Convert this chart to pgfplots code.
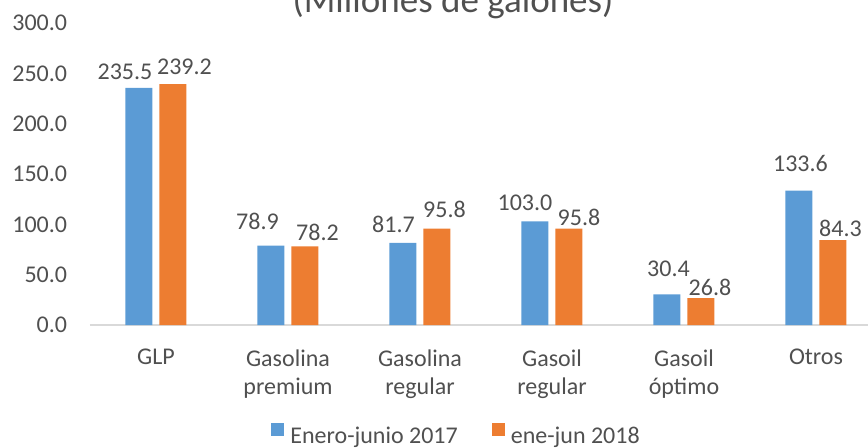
\documentclass[border=0pt]{standalone}
\usepackage{pgfplots}
\usepackage{pgfplotstable}
\pgfplotsset{compat=1.18}
\usepackage{fontspec}
\setmainfont{Carlito}
\definecolor{cblue}{HTML}{5B9BD5}
\definecolor{corange}{HTML}{ED7D31}
\definecolor{ctext}{HTML}{505050}
\definecolor{caxis}{HTML}{D9D9D9}

\pgfplotstableread{
x y dx dy
0 235.5 -7 4
1 78.9 -6.75 7.5
2 81.7 -4.75 5
3 103.0 -5 5
4 30.4 0.75 8.5
5 133.6 0.75 9
}\dataA
\pgfplotstableread{
x y dx dy
0 239.2 5.75 4.5
1 78.2 6.25 2.5
2 95.8 3.75 5
3 95.8 5 1
4 26.8 4.5 1
5 84.3 3.75 1.5
}\dataB

\begin{document}
\begin{tikzpicture}
\begin{axis}[
  at={(0,0)}, anchor=south west,
  scale only axis, width=389pt, height=151pt,
  xmin=-0.5, xmax=5.394, ymin=0, ymax=300,
  ybar, bar width=13.5pt,
  axis x line*=bottom, axis y line*=left,
  x axis line style={draw=caxis, line width=0.75pt, -},
  y axis line style={draw=none},
  major tick length=0pt,
  xtick={0,1,2,3,4,5},
  xticklabels={GLP, Gasolina\\premium, Gasolina\\regular, Gasoil\\regular, Gasoil\\óptimo, Otros},
  xticklabel style={align=center, anchor=north, inner sep=0pt, yshift=-12pt,
    font=\fontsize{12}{14}\selectfont, text=ctext},
  ytick={0,50,...,300},
  yticklabel style={anchor=east, inner sep=0pt, xshift=-11.25pt,
    font=\fontsize{12}{14}\selectfont, text=ctext},
  /pgf/number format/.cd, fixed, fixed zerofill, precision=1, assume math mode=true,
  /pgfplots/.cd,
  title={(Millones de galones)},
  title style={at={(axis description cs:0.4666,0.9967)}, anchor=base, inner sep=0pt,
    font=\fontsize{18.5}{22}\selectfont, text=ctext},
  legend style={at={(axis description cs:0.4737,-0.364)}, anchor=center, draw=none, fill=none,
    legend columns=2, font=\fontsize{12}{14}\selectfont, text=ctext,
    nodes={inner xsep=3pt, inner ysep=0pt},
    /tikz/every even column/.append style={column sep=14pt}},
  legend image code/.code={\path[#1, draw=none] (0pt,0.3pt) rectangle (6.5pt,6.8pt);},
  visualization depends on={\thisrow{dx} \as \lblx},
  visualization depends on={\thisrow{dy} \as \lbly},
  nodes near coords,
  every node near coord/.append style={anchor=south, inner sep=0pt,
    xshift=\lblx pt, yshift=\lbly pt, font=\fontsize{12}{14}\selectfont, text=ctext},
]
\addplot[fill=cblue, draw=none, bar shift=-8.5pt] table[x=x, y=y] {\dataA};
\addlegendentry{Enero-junio 2017}
\addplot[fill=corange, draw=none, bar shift=8.5pt] table[x=x, y=y] {\dataB};
\addlegendentry{ene-jun 2018}
\end{axis}
\pgfresetboundingbox
\path[use as bounding box] (-45pt,-61pt) rectangle (389pt,162.5pt);
\end{tikzpicture}
\end{document}
